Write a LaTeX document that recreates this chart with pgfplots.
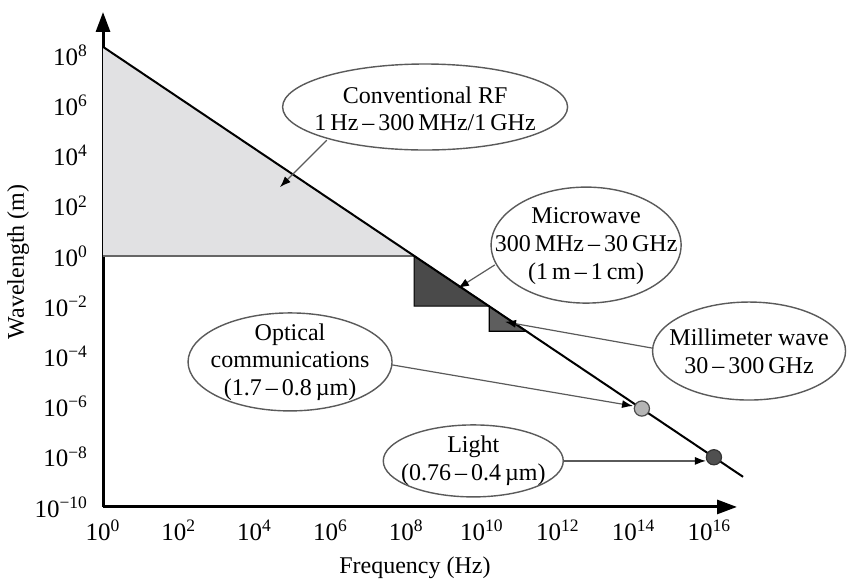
\documentclass[border=0pt]{standalone}
\usepackage{pgfplots}
\pgfplotsset{compat=1.18}
\usepackage{fontspec}
\setmainfont{Liberation Serif}
\usetikzlibrary{shapes.geometric,arrows.meta}
\definecolor{rfgrey}{HTML}{E1E1E3}
\definecolor{mwgrey}{HTML}{4A4A4A}
\definecolor{mmgrey}{HTML}{5E5E5E}
\definecolor{optgrey}{HTML}{B5B5B5}
\definecolor{lightdot}{HTML}{505050}
\definecolor{callout}{HTML}{5A5A5A}
\begin{document}
\begin{tikzpicture}
\begin{axis}[
  xmode=log, ymode=log,
  scale only axis, width=317pt, height=247.5pt,
  xmin=1, xmax=5.37e16, ymin=1e-10, ymax=5.25e9,
  axis lines=left,
  axis line style={line width=1.5pt, -{Triangle[length=10pt,width=7pt]}},
  major tick length=0pt, minor tick length=0pt,
  xtick={1,1e2,1e4,1e6,1e8,1e10,1e12,1e14,1e16},
  xticklabels={10\textsuperscript{0},10\textsuperscript{2},10\textsuperscript{4},10\textsuperscript{6},10\textsuperscript{8},10\textsuperscript{10},10\textsuperscript{12},10\textsuperscript{14},10\textsuperscript{16}},
  ytick={1e-10,1e-8,1e-6,1e-4,1e-2,1,1e2,1e4,1e6,1e8},
  yticklabels={10\textsuperscript{−10},10\textsuperscript{−8},10\textsuperscript{−6},10\textsuperscript{−4},10\textsuperscript{−2},10\textsuperscript{0},10\textsuperscript{2},10\textsuperscript{4},10\textsuperscript{6},10\textsuperscript{8}},
  ticklabel style={font=\fontsize{12.5}{14}\selectfont},
  xticklabel style={yshift=-3pt},
  yticklabel style={xshift=-4pt},
  clip=false,
]
% Conventional RF region
\addplot[fill=rfgrey, draw=none] coordinates {(1,1) (1,2.14e8) (1.62e8,1)} -- cycle;
\addplot[draw=gray!80!black, line width=0.8pt] coordinates {(1,1) (1.62e8,1)};
% Microwave region
\addplot[fill=mwgrey, draw=black, line width=0.6pt] coordinates {(1.62e8,1) (1.62e8,1e-2) (1.55e10,1e-2)} -- cycle;
% Millimeter wave region
\addplot[fill=mmgrey, draw=black, line width=0.6pt] coordinates {(1.55e10,1e-2) (1.55e10,1e-3) (1.51e11,1e-3)} -- cycle;
% wavelength-frequency line
\addplot[black, line width=1pt] coordinates {(1,2.14e8) (7.76e16,1.585e-9)};
% optical and light points
\addplot[only marks, mark=*, mark size=3.8pt, mark options={fill=optgrey, draw=gray!60!black, line width=0.6pt}] coordinates {(1.66e14,8.32e-7)};
\addplot[only marks, mark=*, mark size=3.8pt, mark options={fill=lightdot, draw=black!80, line width=0.6pt}] coordinates {(1.32e16,9.55e-9)};

% callouts
\tikzset{callring/.style={draw=callout, line width=0.7pt, fill=white},
         calltext/.style={align=center, inner sep=0pt, font=\fontsize{12}{13.8}\selectfont},
         callarrow/.style={draw=callout, line width=0.6pt, -{Latex[length=5.5pt,width=4pt,color=black]}}}
\draw[callarrow] (rel axis cs:0.353,0.741) -- (rel axis cs:0.279,0.646);
\draw[callring] (rel axis cs:0.508,0.808) ellipse [x radius=71.25pt, y radius=21.5pt];
\node[calltext] at (rel axis cs:0.508,0.804) {Conventional RF\\1\,Hz\,–\,300\,MHz/1\,GHz};

\draw[callarrow] (rel axis cs:0.618,0.489) -- (rel axis cs:0.560,0.442);
\draw[callring] (rel axis cs:0.762,0.529) ellipse [x radius=47.5pt, y radius=29pt];
\node[calltext] at (rel axis cs:0.762,0.527) {Microwave\\300\,MHz\,–\,30\,GHz\\(1\,m\,–\,1\,cm)};

\draw[callarrow] (rel axis cs:0.866,0.321) -- (rel axis cs:0.634,0.374);
\draw[callring] (rel axis cs:1.019,0.315) ellipse [x radius=48.25pt, y radius=24.5pt];
\node[calltext] at (rel axis cs:1.019,0.315) {Millimeter wave\\30\,–\,300\,GHz};

\draw[callarrow] (rel axis cs:0.456,0.287) -- (rel axis cs:0.836,0.204);
\draw[callring] (rel axis cs:0.295,0.293) ellipse [x radius=51pt, y radius=24.5pt];
\node[calltext] at (rel axis cs:0.295,0.293) {Optical\\communications\\(1.7\,–\,0.8\,µm)};

\draw[callarrow] (rel axis cs:0.726,0.093) -- (rel axis cs:0.951,0.093);
\draw[callring] (rel axis cs:0.584,0.093) ellipse [x radius=45pt, y radius=18pt];
\node[calltext] at (rel axis cs:0.584,0.093) {Light\\(0.76\,–\,0.4\,µm)};

% axis titles
\node[font=\fontsize{12}{14}\selectfont] at (rel axis cs:0.492,-0.1232) {Frequency (Hz)};
\node[font=\fontsize{12}{14}\selectfont, rotate=90] at (rel axis cs:-0.134,0.495) {Wavelength (m)};

\coordinate (bbll) at (rel axis cs:-0.1625,-0.1455);
\coordinate (bbur) at (rel axis cs:1.1735,1.0242);
\end{axis}
\pgfresetboundingbox
\path[use as bounding box] (bbll) rectangle (bbur);
\end{tikzpicture}
\end{document}
